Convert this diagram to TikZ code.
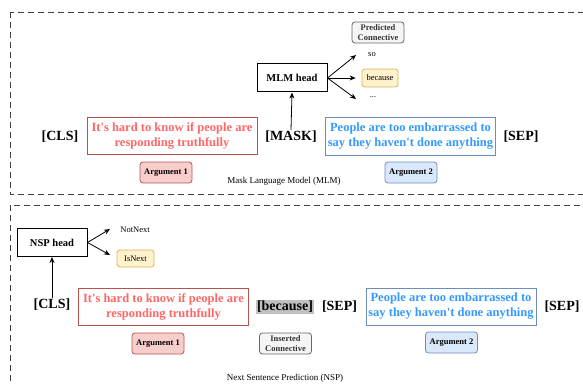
\documentclass[tikz,border=0pt]{standalone}
\usepackage{fontspec}
\setmainfont{Liberation Serif}
\usetikzlibrary{arrows.meta}
\definecolor{redtxt}{HTML}{FF6666}
\definecolor{redline}{HTML}{B85450}
\definecolor{redfill}{HTML}{F8CECC}
\definecolor{bluetxt}{HTML}{3399FF}
\definecolor{blueline}{HTML}{6C8EBF}
\definecolor{bluefill}{HTML}{DAE8FC}
\definecolor{yelfill}{HTML}{FFF2CC}
\definecolor{yelline}{HTML}{D6B656}
\definecolor{greyfill}{HTML}{F5F5F5}
\definecolor{greyline}{HTML}{666666}
\definecolor{greytxt}{HTML}{333333}
\definecolor{maskfill}{HTML}{C0C0C0}
\begin{document}
\begin{tikzpicture}[x=1pt,y=-1pt,
  frame/.style={draw=black!75,line width=0.8pt,dash pattern=on 6pt off 4pt},
  sent/.style={draw,line width=1pt,minimum width=170pt,minimum height=37pt,inner sep=1pt,align=center,font=\fontsize{12.5}{15}\selectfont\bfseries},
  redsent/.style={sent,draw=redline,text=redtxt},
  bluesent/.style={sent,draw=blueline,text=bluetxt},
  tok/.style={inner sep=1pt,font=\fontsize{14}{16}\selectfont\bfseries},
  head/.style={draw,line width=1pt,minimum width=70pt,minimum height=28pt,font=\fontsize{10.5}{12}\selectfont\bfseries},
  tag/.style={draw,rounded corners=3pt,line width=0.8pt,minimum width=52pt,minimum height=21pt,inner sep=1pt,align=center,font=\fontsize{8.5}{9.5}\selectfont\bfseries},
  redtag/.style={tag,draw=redline,fill=redfill},
  bluetag/.style={tag,draw=blueline,fill=bluefill},
  greytag/.style={tag,draw=greyline,fill=greyfill,text=greytxt},
  yeltag/.style={draw=yelline,fill=yelfill,rounded corners=3pt,line width=0.8pt,minimum height=17pt,inner sep=3pt,font=\fontsize{8.5}{10}\selectfont},
  word/.style={inner sep=1pt,font=\fontsize{8.5}{10}\selectfont},
  caption/.style={font=\fontsize{9}{11}\selectfont},
  arr/.style={->,>={Stealth[length=6pt,width=5pt]},line width=0.8pt}]
\useasboundingbox (0,0) rectangle (583,385);
\clip (0,0) rectangle (583,385);

% MLM part
\draw[frame] (10,12) rectangle (600,194);
\node[head] (mlmhead) at (292,78) {MLM head};
\node[greytag] (predconn) at (378,32.5) {Predicted\\Connective};
\node[word] (so) at (372,55) {so};
\node[yeltag,minimum width=36pt,minimum height=18pt] (because) at (380,78) {because};
\node[word] (dots) at (373,97) {...};
\coordinate (tso) at (356,55);
\coordinate (tdots) at (356,99);

\node[tok] (cls1) at (60,137) {[CLS]};
\node[redsent] (arga1) at (172,136) {It\textquotesingle s hard to know if people are\\responding truthfully};
\node[tok] (mask) at (291,137) {[MASK]};
\node[bluesent] (argb1) at (410.5,136.5) {People are too embarrassed to\\say they haven\textquotesingle t done anything};
\node[tok] (sep1) at (521,137) {[SEP]};
\node[redtag] (lab1) at (166,172.5) {Argument 1};
\node[bluetag] (lab2) at (411,172.5) {Argument 2};
\node[caption] (mlmcap) at (284,181) {Mask Language Model (MLM)};

\draw[arr] (mask.north) -- (mlmhead.south);
\draw[arr] (mlmhead.east) -- (tso);
\draw[arr] (mlmhead.east) -- ([xshift=-6pt]because.west);
\draw[arr] (mlmhead.east) -- (tdots);

% NSP part
\draw[frame] (10,205) rectangle (600,400);
\node[head] (nsphead) at (52,242.5) {NSP head};
\node[word] (notnext) at (135,230) {NotNext};
\node[yeltag,minimum width=37pt] (isnext) at (135.5,258.5) {IsNext};
\coordinate (tnot) at (110,229);
\coordinate (tis) at (110,255);

\node[tok] (cls2) at (52,305) {[CLS]};
\node[redsent] (arga2) at (163.5,306.5) {It\textquotesingle s hard to know if people are\\responding truthfully};
\node[tok,fill=maskfill,inner sep=1.5pt] (conn) at (285,307) {[because]};
\node[tok] (sep2) at (339.5,307) {[SEP]};
\node[bluesent] (argb2) at (451,306.5) {People are too embarrassed to\\say they haven\textquotesingle t done anything};
\node[tok] (sep3) at (562,307) {[SEP]};
\node[redtag] (lab3) at (158,343.5) {Argument 1};
\node[greytag] (insconn) at (285.5,343.5) {Inserted\\Connective};
\node[bluetag] (lab4) at (451.5,342.5) {Argument 2};
\node[caption] (nspcap) at (285,378) {Next Sentence Prediction (NSP)};

\draw[arr] (cls2.north) -- (nsphead.south);
\draw[arr] (nsphead.east) -- (tnot);
\draw[arr] (nsphead.east) -- (tis);
\end{tikzpicture}
\end{document}
